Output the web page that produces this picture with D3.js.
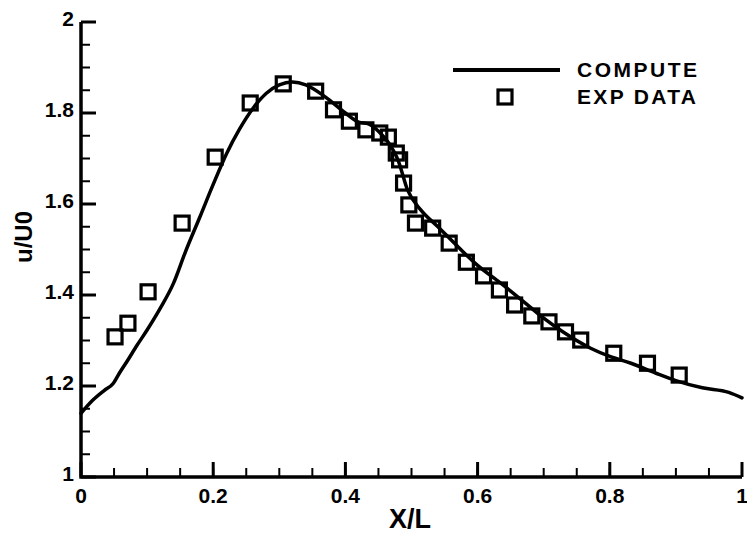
<!DOCTYPE html>
<html>
<head>
<meta charset="utf-8">
<script src="https://cdn.jsdelivr.net/npm/d3@7"></script>
<style>
  html, body { margin: 0; padding: 0; background: #fff; }
  svg { display: block; }
  text { font-family: "Liberation Sans", Arial, Helvetica, sans-serif; font-weight: bold; fill: #000; }
</style>
</head>
<body>
<svg id="chart" width="747" height="535"></svg>
<script>
// ---- data ----
const computeX = [0, 0.018, 0.035, 0.049, 0.058, 0.07, 0.085, 0.1, 0.12, 0.14, 0.158, 0.18, 0.2, 0.22, 0.24, 0.26, 0.28, 0.3, 0.32, 0.34, 0.37, 0.4, 0.42, 0.435, 0.45, 0.465, 0.48, 0.494, 0.514, 0.54, 0.571, 0.6, 0.635, 0.67, 0.7, 0.73, 0.771, 0.8, 0.832, 0.87, 0.9, 0.94, 0.98, 1.0];
const computeY = [1.14, 1.169, 1.19, 1.206, 1.228, 1.255, 1.29, 1.323, 1.371, 1.426, 1.495, 1.572, 1.643, 1.71, 1.765, 1.81, 1.843, 1.862, 1.868, 1.862, 1.835, 1.80, 1.78, 1.776, 1.76, 1.735, 1.695, 1.631, 1.587, 1.55, 1.505, 1.465, 1.426, 1.385, 1.349, 1.318, 1.283, 1.265, 1.25, 1.228, 1.212, 1.196, 1.186, 1.174];
const expX = [0.0515, 0.071, 0.1015, 0.153, 0.203, 0.256, 0.306, 0.355, 0.382, 0.406, 0.431, 0.452, 0.465, 0.477, 0.482, 0.488, 0.496, 0.506, 0.532, 0.557, 0.583, 0.609, 0.633, 0.656, 0.682, 0.708, 0.733, 0.756, 0.806, 0.857, 0.905];
const expY = [1.308, 1.338, 1.407, 1.558, 1.703, 1.822, 1.864, 1.848, 1.807, 1.782, 1.763, 1.756, 1.747, 1.712, 1.697, 1.646, 1.598, 1.558, 1.547, 1.514, 1.472, 1.442, 1.411, 1.378, 1.354, 1.341, 1.319, 1.301, 1.272, 1.250, 1.224];
const xTicks = [0, 0.2, 0.4, 0.6, 0.8, 1];
const xTickLabels = ["0", "0.2", "0.4", "0.6", "0.8", "1"];
const yTicks = [1, 1.2, 1.4, 1.6, 1.8, 2];
const yTickLabels = ["1", "1.2", "1.4", "1.6", "1.8", "2"];
const xMinor = d3.range(0, 1.0001, 0.05);
const yMinor = d3.range(1, 2.0001, 0.05);
const seriesNames = ["COMPUTE", "EXP DATA"];
const xTitle = "X/L", yTitle = "u/U0";

// ---- layout ----
const svg = d3.select("#chart");
const x = d3.scaleLinear().domain([0, 1]).range([81, 742]);
const y = d3.scaleLinear().domain([1, 2]).range([477, 22]);

// ticks
const gx = svg.append("g");
gx.selectAll("line.minor").data(xMinor).enter().append("line")
  .attr("x1", d => x(d)).attr("x2", d => x(d))
  .attr("y1", y(1)).attr("y2", y(1) - 9)
  .attr("stroke", "#000").attr("stroke-width", 2);
gx.selectAll("line.major").data(xTicks).enter().append("line")
  .attr("x1", d => x(d)).attr("x2", d => x(d))
  .attr("y1", y(1)).attr("y2", y(1) - 15)
  .attr("stroke", "#000").attr("stroke-width", 3);
gx.selectAll("text").data(xTicks).enter().append("text")
  .attr("x", d => x(d)).attr("y", 503)
  .attr("text-anchor", "middle").attr("font-size", 21)
  .text((d, i) => xTickLabels[i]);

const gy = svg.append("g");
gy.selectAll("line.minor").data(yMinor).enter().append("line")
  .attr("x1", x(0)).attr("x2", x(0) + 9)
  .attr("y1", d => y(d)).attr("y2", d => y(d))
  .attr("stroke", "#000").attr("stroke-width", 2);
gy.selectAll("line.major").data(yTicks).enter().append("line")
  .attr("x1", x(0)).attr("x2", x(0) + 15)
  .attr("y1", d => y(d)).attr("y2", d => y(d))
  .attr("stroke", "#000").attr("stroke-width", 3);
gy.selectAll("text").data(yTicks).enter().append("text")
  .attr("x", 74).attr("y", d => y(d) + 4)
  .attr("text-anchor", "end").attr("font-size", 21)
  .text((d, i) => yTickLabels[i]);

// axis lines
svg.append("path")
  .attr("d", `M${x(0)},${y(2)} L${x(0)},${y(1)} L${x(1)},${y(1)}`)
  .attr("fill", "none").attr("stroke", "#000").attr("stroke-width", 3.5)
  .attr("stroke-linejoin", "miter");

// axis titles
svg.append("text").attr("x", 410).attr("y", 528)
  .attr("text-anchor", "middle").attr("font-size", 27).text(xTitle);
svg.append("text").attr("transform", "translate(32,237) rotate(-90)")
  .attr("text-anchor", "middle").attr("font-size", 24).text(yTitle);

// compute line
const line = d3.line().x(d => x(d[0])).y(d => y(d[1])).curve(d3.curveMonotoneX);
svg.append("path")
  .datum(computeX.map((v, i) => [v, computeY[i]]))
  .attr("d", line)
  .attr("fill", "none").attr("stroke", "#000").attr("stroke-width", 3.5)
  .attr("stroke-linejoin", "round").attr("stroke-linecap", "round");

// exp markers
const S = 14;
svg.append("g").selectAll("rect").data(expX.map((v, i) => [v, expY[i]])).enter().append("rect")
  .attr("x", d => x(d[0]) - S / 2).attr("y", d => y(d[1]) - S / 2)
  .attr("width", S).attr("height", S)
  .attr("fill", "none").attr("stroke", "#000").attr("stroke-width", 3.2);

// legend
const lg = svg.append("g");
lg.append("line").attr("x1", 453).attr("x2", 560).attr("y1", 70).attr("y2", 70)
  .attr("stroke", "#000").attr("stroke-width", 4);
lg.append("rect").attr("x", 505 - S / 2).attr("y", 97 - S / 2).attr("width", S).attr("height", S)
  .attr("fill", "none").attr("stroke", "#000").attr("stroke-width", 3.2);
lg.append("text").attr("x", 577).attr("y", 77).attr("font-size", 21)
  .attr("textLength", 120).attr("lengthAdjust", "spacing").text(seriesNames[0]);
lg.append("text").attr("x", 577).attr("y", 104).attr("font-size", 21)
  .attr("textLength", 119).attr("lengthAdjust", "spacing").text(seriesNames[1]);
</script>
</body>
</html>
